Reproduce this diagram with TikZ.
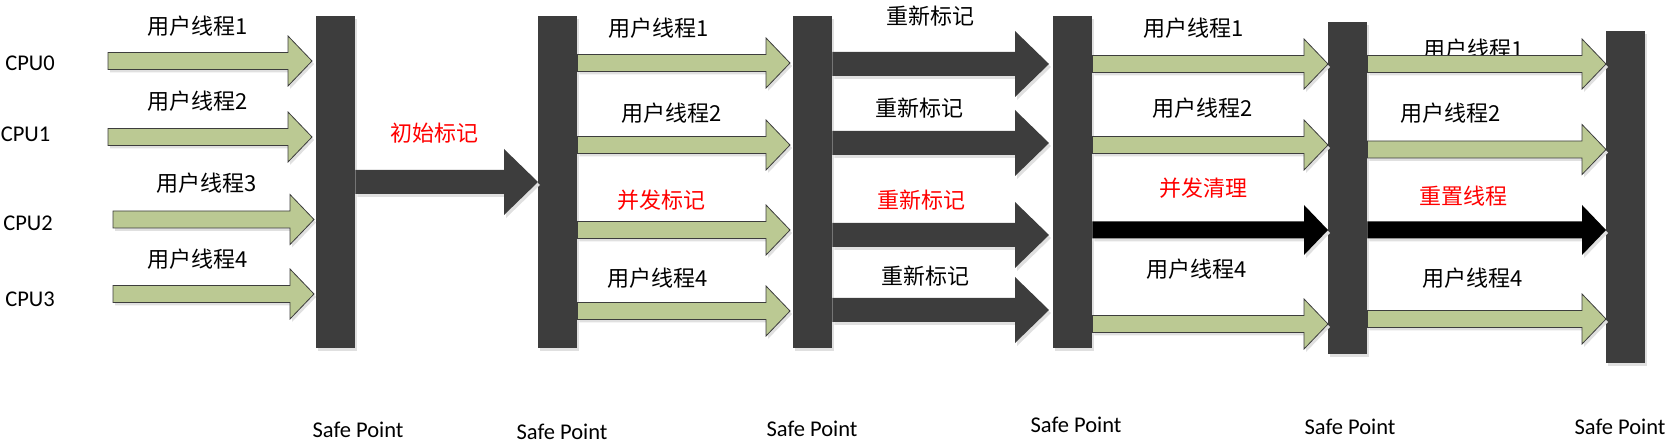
\documentclass[tikz,border=0pt]{standalone}
\usepackage{fontspec}
\setmainfont{Carlito}
\newfontfamily\cjk{Noto Sans CJK SC}
\usetikzlibrary{positioning,calc,shadows}
\definecolor{leaf}{RGB}{187,201,147}
\definecolor{slate}{RGB}{61,61,61}
\definecolor{shade}{RGB}{224,224,224}

\begin{document}
\begin{tikzpicture}[x=1pt,y=-1pt,
  shaftw/.store in=\arrsh, headw/.store in=\arrhh, headl/.store in=\arrhl,
  blk/.style={to path={let \p1=(\tikztostart),\p2=(\tikztotarget) in
    (\x1,\y2+\arrsh)--(\x2-\arrhl,\y2+\arrsh)--(\x2-\arrhl,\y2+\arrhh)--(\x2,\y2)
    --(\x2-\arrhl,\y2-\arrhh)--(\x2-\arrhl,\y2-\arrsh)--(\x1,\y2-\arrsh)--cycle}},
  shd/.style={drop shadow={shadow xshift=2pt,shadow yshift=-3pt,fill=shade,opacity=1}},
  grn/.style={blk,shd,fill=leaf,draw=slate,line width=0.8pt,shaftw=8.5pt,headw=25pt,headl=24pt},
  dark/.style={blk,shd,fill=slate,shaftw=12pt,headw=33pt,headl=34pt},
  blackarr/.style={blk,shd,fill=black,shaftw=8.5pt,headw=25pt,headl=24pt},
  bar/.style={shd,fill=slate,minimum width=39pt,minimum height=332pt,inner sep=0pt,anchor=north west},
  lab/.style={font=\cjk\fontsize{22}{22}\selectfont,inner sep=0pt},
  hot/.style={lab,text=red},
  cpu/.style={font=\fontsize{22.5}{22.5}\selectfont,inner sep=0pt}]
\useasboundingbox (0,0) rectangle (1668,446);

\node[bar] (bar1) at (316,16) {};
\node[bar] (bar2) at (538,16) {};
\node[bar] (bar3) at (793,16) {};
\node[bar] (bar4) at (1053,16) {};
\node[bar] (bar5) at (1328,22) {};
\node[bar] (bar6) at (1606,31) {};

\node[cpu] (cpu0) at (30,63) {CPU0};
\node[cpu] (cpu1) at (25.5,134) {CPU1};
\node[cpu] (cpu2) at (28,223) {CPU2};
\node[cpu] (cpu3) at (30,299) {CPU3};

\node[cpu] (sp1) at (358,430) {Safe Point};
\node[cpu] (sp2) at (562,432) {Safe Point};
\node[cpu] (sp3) at (812,429) {Safe Point};
\node[cpu] (sp4) at (1076,425) {Safe Point};
\node[cpu] (sp5) at (1350,427) {Safe Point};
\node[cpu] (sp6) at (1620,427) {Safe Point};

\node[lab] (u11) at (197.5,26) {用户线程1};
\node[lab] (u12) at (197.5,101) {用户线程2};
\node[lab] (u13) at (207,183) {用户线程3};
\node[lab] (u14) at (198,259) {用户线程4};
\node[hot] (init) at (434,133) {初始标记};
\node[lab] (u31) at (659,28) {用户线程1};
\node[lab] (u32) at (671.5,113) {用户线程2};
\node[hot] (conc) at (661,200) {并发标记};
\node[lab] (u34) at (657.5,278) {用户线程4};
\node[lab] (re1) at (930,16) {重新标记};
\node[lab] (re2) at (919.5,108) {重新标记};
\node[hot] (re3) at (921,200) {重新标记};
\node[lab] (re4) at (925.5,276) {重新标记};
\node[lab] (u51) at (1193.5,28) {用户线程1};
\node[lab] (u52) at (1203,108) {用户线程2};
\node[hot] (sweep) at (1203.5,188) {并发清理};
\node[lab] (u54) at (1197,269) {用户线程4};
\node[lab] (u61) at (1474,49) {用户线程1};
\node[lab] (u62) at (1451,113) {用户线程2};
\node[hot] (reset) at (1463.5,196) {重置线程};
\node[lab] (u64) at (1473,278) {用户线程4};

\coordinate (s0) at (108,61);
\coordinate (s1) at (108,137);
\coordinate (s2) at (113,219.5);
\coordinate (s3) at (113,294);
\path[grn] (s0) to ([xshift=-4pt]s0 -| bar1.west);
\path[grn] (s1) to ([xshift=-4pt]s1 -| bar1.west);
\path[grn] (s2) to ([xshift=-2pt]s2 -| bar1.west);
\path[grn] (s3) to ([xshift=-2pt]s3 -| bar1.west);

\path[dark] (bar1.east) to (bar2.west |- 0,182);

\path[grn] (bar2.east) to ([xshift=-3pt]bar3.west |- 0,63);
\path[grn] (bar2.east) to ([xshift=-3pt]bar3.west |- 0,145);
\path[grn] (bar2.east) to ([xshift=-3pt]bar3.west |- 0,230);
\path[grn] (bar2.east) to ([xshift=-3pt]bar3.west |- 0,311);

\path[dark] (bar3.east) to ([xshift=-4pt]bar4.west |- 0,64);
\path[dark] (bar3.east) to ([xshift=-4pt]bar4.west |- 0,143);
\path[dark] (bar3.east) to ([xshift=-4pt]bar4.west |- 0,235);
\path[dark] (bar3.east) to ([xshift=-4pt]bar4.west |- 0,310);

\path[grn] (bar4.east) to (bar5.west |- 0,64);
\path[grn] (bar4.east) to (bar5.west |- 0,145);
\path[blackarr] (bar4.east) to (bar5.west |- 0,230);
\path[grn] (bar4.east) to (bar5.west |- 0,324);

\path[grn] (bar5.east) to (bar6.west |- 0,64);
\path[grn] (bar5.east) to (bar6.west |- 0,149.5);
\path[blackarr] (bar5.east) to (bar6.west |- 0,230);
\path[grn] (bar5.east) to (bar6.west |- 0,319);
\end{tikzpicture}
\end{document}
